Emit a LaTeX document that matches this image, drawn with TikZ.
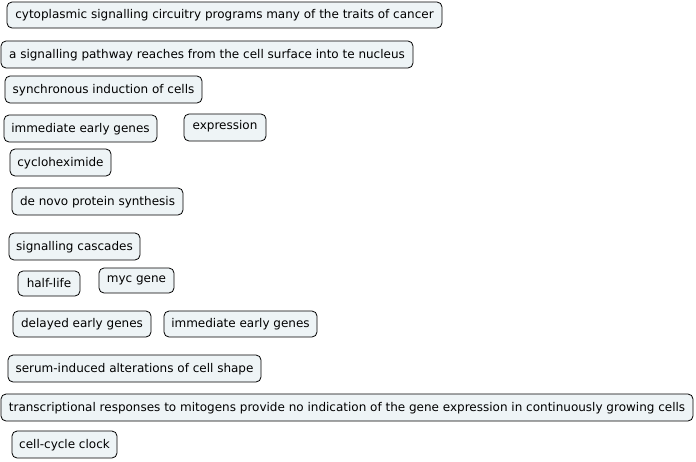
\documentclass[tikz,border=0pt]{standalone}
\usepackage{fontspec}
\setmainfont{DejaVu Sans}
\definecolor{conceptfill}{RGB}{238,244,246}
\begin{document}
\begin{tikzpicture}[x=1pt, y=-1pt, every node/.style={draw, fill=conceptfill, rounded corners=5pt, line width=0.8pt, inner sep=0pt, text height=10pt, text depth=2.5pt, font=\fontsize{12}{14}\selectfont},
  box/.style n args={2}{minimum width=#1pt, minimum height=#2pt},
  raised/.style={text height=9pt, text depth=6pt}]
\useasboundingbox (0,0) rectangle (696,461);
\node [box={435}{26}] (cyto) at (224.5,15) {cytoplasmic signalling circuitry programs many of the traits of cancer};
\node [box={412}{27}] (pathway) at (207,54.5) {a signalling pathway reaches from the cell surface into te nucleus};
\node [box={197}{27}] (sync) at (103.5,89.5) {synchronous induction of cells};
\node [box={153}{27}] (ieg) at (80.5,128.5) {immediate early genes};
\node [box={82}{27}, raised] (expr) at (225,127.5) {expression};
\node [box={101}{27}] (cyclo) at (60.5,162.5) {cycloheximide};
\node [box={171}{27}] (denovo) at (97.5,201.5) {de novo protein synthesis};
\node [box={131}{27}] (casc) at (74.5,246.5) {signalling cascades};
\node [box={62}{25}] (half) at (49,283.5) {half-life};
\node [box={75}{25}, raised] (myc) at (136.5,280.5) {myc gene};
\node [box={138}{26}] (deg) at (82,324) {delayed early genes};
\node [box={153}{26}] (ieg2) at (240.5,324) {immediate early genes};
\node [box={253}{27}] (serum) at (134.5,368.5) {serum-induced alterations of cell shape};
\node [box={692}{27}] (resp) at (347,407.5) {transcriptional responses to mitogens provide no indication of the gene expression in continuously growing cells};
\node [box={105}{27}] (clock) at (64.5,444.5) {cell-cycle clock};
\end{tikzpicture}
\end{document}
